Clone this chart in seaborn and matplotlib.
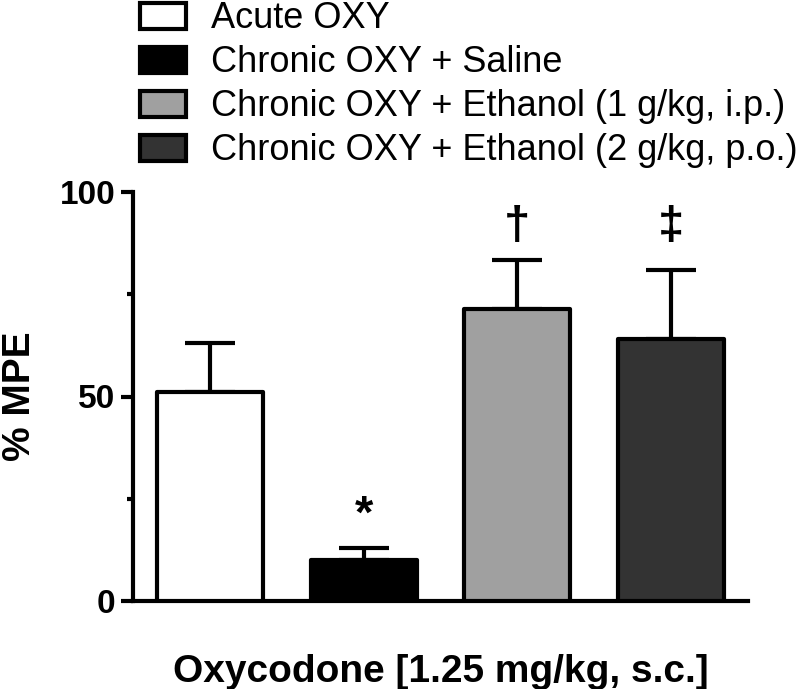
import matplotlib
matplotlib.use("Agg")
import matplotlib.pyplot as plt
import seaborn as sns
import pandas as pd
from matplotlib.patches import Patch

groups = ["Acute OXY", "Chronic OXY + Saline",
          "Chronic OXY + Ethanol (1 g/kg, i.p.)",
          "Chronic OXY + Ethanol (2 g/kg, p.o.)"]
means = [51.0, 10.0, 71.5, 64.0]
sems = [12.2, 3.0, 11.8, 17.0]
marks = ["", "*", "\u2020", "\u2021"]
mark_y = [0, 15.5, 86, 86]
colors = ["#ffffff", "#000000", "#a0a0a0", "#333333"]
yticks = [0, 50, 100]
xlabel = "Oxycodone [1.25 mg/kg, s.c.]"
ylabel = "% MPE"

sns.set_style("ticks")
plt.rcParams["font.family"] = ["Liberation Sans", "DejaVu Sans"]
for k in ["text.color", "axes.labelcolor", "xtick.color", "ytick.color",
          "axes.edgecolor"]:
    plt.rcParams[k] = "black"

df = pd.DataFrame({"group": groups, "mpe": means})

fig = plt.figure(figsize=(8.06, 6.89), dpi=100)
ax = fig.add_axes([133/806, 1-601/689, (748-133)/806, (601-192)/689])

sns.barplot(data=df, x="group", y="mpe", hue="group", palette=colors,
            order=groups, hue_order=groups, width=0.69, edgecolor="black",
            linewidth=3, legend=False, ax=ax, zorder=3)
for p in ax.patches:
    p.set_joinstyle("round")

ax.errorbar(x=groups, y=means, yerr=[[0]*4, sems], fmt="none", ecolor="black",
            elinewidth=3, capsize=18, capthick=3, zorder=2, clip_on=False)

for g, y, t in zip(groups, mark_y, marks):
    if t:
        ax.text(g, y, t, ha="center", va="bottom", fontsize=34,
                fontweight="bold", clip_on=False)

ax.set_xlim(-0.5, 3.5)
ax.set_ylim(0, 100)
ax.set_yticks(yticks)
ax.set_yticks([25, 75], minor=True)
ax.set_yticklabels([str(v) for v in yticks], fontsize=24, fontweight="bold")
ax.tick_params(axis="y", which="major", length=8.5, width=3, pad=4)
ax.tick_params(axis="y", which="minor", length=4, width=3)
ax.tick_params(axis="x", which="both", length=0, labelbottom=False)
ax.set_xlabel(xlabel, fontsize=28, fontweight="bold", labelpad=38)
ax.set_ylabel(ylabel, fontsize=28, fontweight="bold", labelpad=16)
for side in ["top", "right"]:
    ax.spines[side].set_visible(False)
for side in ["left", "bottom"]:
    ax.spines[side].set_linewidth(3)

handles = [Patch(facecolor=c, edgecolor="black", linewidth=3, joinstyle="round")
           for c in colors]
fig.legend(handles, groups, loc="upper left", bbox_to_anchor=(140/806, 0.998),
           frameon=False, fontsize=26, borderpad=0, borderaxespad=0,
           handlelength=1.27, handleheight=0.75, handletextpad=0.7,
           labelspacing=0.25)

fig.savefig("out.png", dpi=100)
